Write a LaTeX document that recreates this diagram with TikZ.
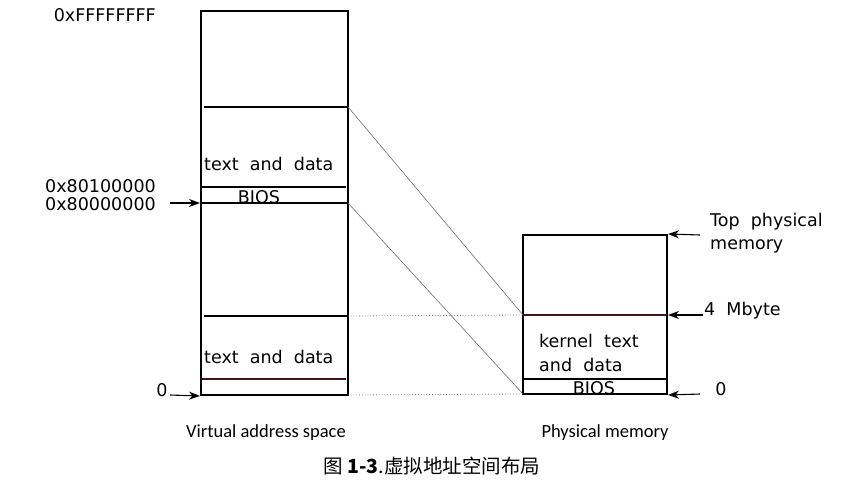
\documentclass[tikz,border=0pt]{standalone}
\usepackage{fontspec}
\setmainfont{DejaVu Sans}
\newfontfamily\capfont{Carlito}
\newfontfamily\cjk{Noto Sans CJK SC}
\usetikzlibrary{arrows.meta}
\definecolor{mapgray}{RGB}{110,110,110}
\definecolor{splitred}{RGB}{70,20,20}
\tikzset{
  membox/.style={rectangle,draw,line width=2pt,inner sep=0pt},
  lbl/.style={inner sep=0pt,font=\fontsize{17.5}{20}\selectfont},
  captxt/.style={inner sep=0pt,font=\capfont\fontsize{18.5}{21}\selectfont},
  ptr/.style={-{Stealth[length=11pt,width=8pt]},line width=1.1pt},
  split/.style={line width=1.1pt},
  mapline/.style={mapgray,line width=0.6pt},
  dotline/.style={mapgray,line width=0.8pt,dotted}
}
\begin{document}
\begin{tikzpicture}[x=1pt,y=-1pt]
\useasboundingbox (0,0) rectangle (864,487);

% the two memory columns
\node (vas) at (274.5,203) [membox,minimum width=147pt,minimum height=384pt] {};
\node (pm) at (595,314.5) [membox,minimum width=144pt,minimum height=159pt] {};

% edges of the regions
\coordinate (ktop) at (348,107);
\coordinate (kbot) at (348,203);
\coordinate (utop) at (348,316);
\coordinate (ubot) at (348,395);
\coordinate (p4m) at (523,315);
\coordinate (p0) at (523,394);

\draw [split] (204,107) -- (ktop);
\draw [split] (202,187) -- (346,187);
\draw [split] (202,203) -- (kbot);
\draw [split] (204,316) -- (utop);
\draw [split,splitred] (202,379) -- (346,379);
\draw [split,splitred] (p4m) -- (667,315);
\draw [split] (523,379) -- (667,379);

% mappings
\draw [mapline] (ktop) -- (p4m);
\draw [mapline] (kbot) -- (p0);
\draw [dotline] (utop) -- (p4m);
\draw [dotline] (ubot) -- (p0);

% texts in the columns
\node (vk) at (204,164) [lbl,anchor=west] {text\ \ and\ \ data};
\node (vb) at (259,197) [lbl] {BIOS};
\node (vu) at (204,357) [lbl,anchor=west] {text\ \ and\ \ data};
\node (pk) at (539,341) [lbl,anchor=west] {kernel\ \ text};
\node (pd) at (539,365) [lbl,anchor=west] {and\ \ data};
\node (pb) at (594,388) [lbl] {BIOS};

% addresses on the left
\node (aff) at (156,15) [lbl,anchor=east] {0xFFFFFFFF};
\node (a81) at (156,186) [lbl,anchor=east] {0x80100000};
\node (a80) at (156,204) [lbl,anchor=east] {0x80000000};
\node (a0) at (162,390) [lbl] {0};
\coordinate (s80) at (170,203);
\coordinate (s0) at (170,395);
\draw [ptr] (s80) -- (s80 -| vas.west);
\draw [ptr] (s0) -- (vas.south west);

% addresses on the right
\node (ptop) at (710,222) [lbl,anchor=west] {Top\ \ physical};
\node (pmem) at (710,246) [lbl,anchor=west] {memory};
\node (p4) at (704,311) [lbl,anchor=west] {4\ \ Mbyte};
\node (pz) at (721,389) [lbl] {0};
\coordinate (stop) at (700,235);
\coordinate (s4) at (703,315);
\coordinate (sz) at (700,394);
\draw [ptr] (stop) -- (pm.north east);
\draw [ptr] (s4) -- (s4 -| pm.east);
\draw [ptr] (sz) -- (pm.south east);

% captions
\node (cv) at (266,433) [captxt] {Virtual address space};
\node (cp) at (605,433) [captxt] {Physical memory};
\node (fig) at (432,466) [inner sep=0pt,font=\cjk\fontsize{19.5}{22}\selectfont] {图 \textbf{1-3}.虚拟地址空间布局};

\end{tikzpicture}
\end{document}
